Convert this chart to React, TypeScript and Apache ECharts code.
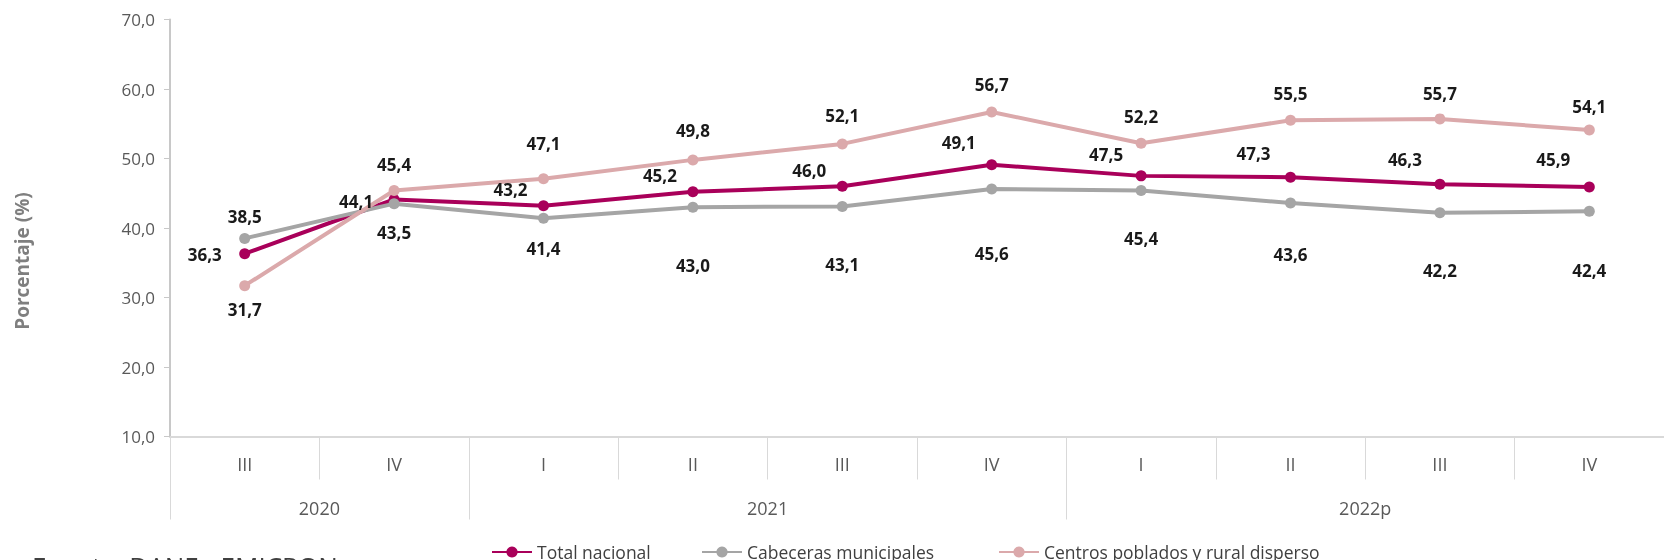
import React, { useEffect, useRef } from "react";
import * as echarts from "echarts";

const quarters = ["III", "IV", "I", "II", "III", "IV", "I", "II", "III", "IV"];
const years = ["2020", "2021", "2022p"];
const quartersPerYear = [2, 4, 4];
const yTicks = [10, 20, 30, 40, 50, 60, 70];

const seriesNames = ["Total nacional", "Cabeceras municipales", "Centros poblados y rural disperso"];
const totalNacional = [36.3, 44.1, 43.2, 45.2, 46.0, 49.1, 47.5, 47.3, 46.3, 45.9];
const cabeceras = [38.5, 43.5, 41.4, 43.0, 43.1, 45.6, 45.4, 43.6, 42.2, 42.4];
const centros = [31.7, 45.4, 47.1, 49.8, 52.1, 56.7, 52.2, 55.5, 55.7, 54.1];

// label placement (style only): [dx, dy] from the point centre
const totalLabelShift = [[-40, 1], [-38, 2], [-33, -16], [-33, -16], [-33, -16], [-33, -22], [-35, -21], [-37, -24], [-35, -25], [-36, -27]];
const cabLabelShift = [[0, -22], [0, 29], [0, 30], [0, 58], [0, 58], [0, 64], [0, 48], [0, 52], [0, 58], [0, 59]];
const cenLabelShift = [[0, 24], [0, -26], [0, -35], [0, -29], [0, -28], [0, -27], [0, -27], [0, -27], [0, -25], [0, -24]];
const legendLeft = [486, 696, 993];

const colors = ["#A9005A", "#A5A5A5", "#DBA9AB"];
const fmt = (v: number) => v.toFixed(1).replace(".", ",");

const yearBounds: number[] = [0];
quartersPerYear.forEach((n) => yearBounds.push(yearBounds[yearBounds.length - 1] + n));
const yearCenters = quartersPerYear.map((n, i) => yearBounds[i] + n / 2);

const sans = "'Open Sans', 'Noto Sans', sans-serif";

function makeSeries(name: string, data: number[], color: string, shifts: number[][]) {
  return {
    name,
    type: "line",
    data: data.map((v, i) => ({
      value: v,
      label: { position: "inside", offset: shifts[i] },
    })),
    symbol: "circle",
    symbolSize: 11,
    lineStyle: { width: 4, color },
    itemStyle: { color },
    label: {
      show: true,
      formatter: (p: any) => fmt(p.value),
      fontFamily: sans,
      fontWeight: "bold",
      fontSize: 17,
      color: "#1a1a1a",
    },
  };
}

export default function App() {
  const ref = useRef<HTMLDivElement>(null);
  useEffect(() => {
    if (!ref.current) return;
    const chart = echarts.init(ref.current, null, { renderer: "svg" });
    chart.setOption({
      animation: false,
      grid: { left: 170, right: -10, top: 19.5, bottom: 123.5, containLabel: false },
      legend: seriesNames.map((name, i) => ({
        left: legendLeft[i],
        top: 538,
        itemWidth: 40,
        itemHeight: 14,
        textStyle: { fontFamily: sans, fontSize: 17.5, color: "#404040" },
        data: [name],
      })),
      xAxis: [
        {
          type: "category",
          data: quarters,
          position: "bottom",
          boundaryGap: true,
          axisLine: { show: true, lineStyle: { color: "#d9d9d9", width: 2 } },
          axisTick: { show: true, interval: 0, length: 43, lineStyle: { color: "#d9d9d9" } },
          axisLabel: { interval: 0, margin: 18, fontFamily: sans, fontSize: 18, color: "#595959" },
          splitLine: { show: false },
        },
        {
          type: "value",
          min: 0,
          max: yearBounds[yearBounds.length - 1],
          position: "bottom",
          axisLine: { show: false },
          axisTick: { show: true, customValues: yearBounds, length: 83, lineStyle: { color: "#d9d9d9" } },
          axisLabel: {
            customValues: yearCenters,
            margin: 62,
            formatter: (v: number) => years[yearCenters.indexOf(v)] ?? "",
            fontFamily: sans,
            fontSize: 18,
            color: "#595959",
          },
          splitLine: { show: false },
        },
      ],
      yAxis: {
        type: "value",
        min: yTicks[0],
        max: yTicks[yTicks.length - 1],
        interval: 10,
        axisLine: { show: true, lineStyle: { color: "#c8c8c8", width: 2 } },
        axisTick: { show: true, length: 6, lineStyle: { color: "#c8c8c8" } },
        axisLabel: { formatter: fmt, margin: 15, fontFamily: sans, fontSize: 17, color: "#595959" },
        splitLine: { show: false },
      },
      graphic: [
        {
          type: "text",
          x: 22,
          y: 261,
          rotation: Math.PI / 2,
          style: {
            text: "Porcentaje (%)",
            textAlign: "center",
            textVerticalAlign: "middle",
            fontFamily: sans,
            fontWeight: "bold",
            fontSize: 19,
            fill: "#7f7f7f",
          },
        },
        {
          type: "text",
          left: 32,
          top: 553,
          style: { text: "Fuente: DANE - EMICRON", fontFamily: sans, fontSize: 26, fill: "#404040" },
        },
      ],
      series: [
        makeSeries(seriesNames[0], totalNacional, colors[0], totalLabelShift),
        makeSeries(seriesNames[1], cabeceras, colors[1], cabLabelShift),
        makeSeries(seriesNames[2], centros, colors[2], cenLabelShift),
      ],
    });
    return () => chart.dispose();
  }, []);
  return <div ref={ref} style={{ position: "fixed", left: 0, top: 0, width: 1664, height: 560 }} />;
}
